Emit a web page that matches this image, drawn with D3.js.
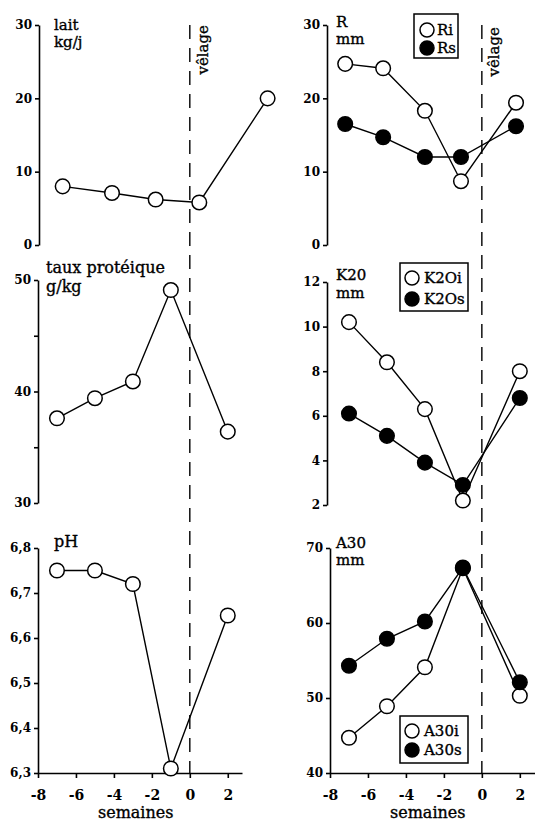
<!DOCTYPE html>
<html>
<head>
<meta charset="utf-8">
<script src="https://cdn.jsdelivr.net/npm/d3@7"></script>
<style>
  body { margin: 0; background: #fff; }
  svg { display: block; }
  text { fill: #000; }
</style>
</head>
<body>
<svg id="chart" width="535" height="823"></svg>
<script>
// weeks around calving (velage)
var weeks = [-7, -5, -3, -1, 2];
var laitWeeks = [-6.7, -4.1, -1.8, 0.5, 4.1];   // top-left panel is drawn slightly off in the original
var rWeeks = [-7.2, -5.2, -3.0, -1.1, 1.8];
var xTicks = [-8, -6, -4, -2, 0, 2];

// left column
var lait = [8.0, 7.1, 6.2, 5.8, 20.0];
var proteine = [37.6, 39.4, 40.9, 49.1, 36.4];
var ph = [6.75, 6.75, 6.72, 6.31, 6.65];

// right column
var Ri = [24.7, 24.1, 18.3, 8.7, 19.4];
var Rs = [16.5, 14.7, 12.0, 12.0, 16.2];
var K2Oi = [10.2, 8.4, 6.3, 2.2, 8.0];
var K2Os = [6.1, 5.1, 3.9, 2.9, 6.8];
var A30i = [44.7, 48.9, 54.1, 67.3, 50.3];
var A30s = [54.3, 57.9, 60.2, 67.4, 52.1];

var serif = "'DejaVu Serif', 'Liberation Serif', serif";
var svg = d3.select("#chart");

var xLeft = d3.scaleLinear().domain([-8, 2.75]).range([38, 242]);
var xRight = d3.scaleLinear().domain([-8, 2.8]).range([330, 535]);

var intFmt = function(d) { return String(d); };
var commaFmt = function(d) { return d3.format(".1f")(d).replace(".", ","); };

// scanned look: a hair of stroke on the text
function ink(sel) {
    return sel.attr("stroke", "#000").attr("stroke-width", 0.35);
}

function styleAxis(sel) {
    sel.attr("font-family", serif).attr("font-size", 12).attr("font-weight", "bold");
    sel.selectAll("path, line").attr("stroke", "#000").attr("stroke-width", 1.6);
}

function panel(o) {
    var y = d3.scaleLinear().domain(o.domain).range(o.range);
    var g = svg.append("g");
    var ax = o.x(-8) + (o.shift || 0);

    var yAxis = d3.axisLeft(y)
        .tickValues(o.ticks)
        .tickSize(4).tickSizeOuter(0).tickPadding(3)
        .tickFormat(o.fmt || intFmt);
    g.append("g").attr("transform", "translate(" + ax + ",0)").call(yAxis).call(styleAxis);

    if (o.minor) {
        var m = g.append("g").attr("transform", "translate(" + ax + ",0)")
            .call(d3.axisLeft(y).tickValues(o.minor).tickSize(4).tickFormat(""));
        m.select(".domain").remove();
        m.call(styleAxis);
    }

    if (o.xAxis) {
        var xa = g.append("g").attr("transform", "translate(0," + o.range[0] + ")")
            .call(d3.axisBottom(o.x).tickValues(xTicks).tickSize(5).tickSizeOuter(0)
                .tickPadding(12).tickFormat(intFmt))
            .call(styleAxis);
        xa.attr("font-size", 14);
        ink(g.append("text")
            .attr("x", o.x(-2.85)).attr("y", 818)
            .attr("text-anchor", "middle")
            .attr("font-family", serif).attr("font-size", 16)
            .text("semaines"));
    }

    var line = d3.line()
        .x(function(d) { return o.x(d[0]); })
        .y(function(d) { return y(d[1]); });

    o.series.forEach(function(s) {
        g.append("path")
            .datum(d3.zip(s.weeks, s.values))
            .attr("d", line)
            .attr("fill", "none")
            .attr("stroke", "#000")
            .attr("stroke-width", 1.4);
    });
    o.series.forEach(function(s) {
        g.selectAll(null)
            .data(d3.zip(s.weeks, s.values))
            .enter().append("circle")
            .attr("cx", function(d) { return o.x(d[0]); })
            .attr("cy", function(d) { return y(d[1]); })
            .attr("r", 7.3)
            .attr("fill", s.filled ? "#000" : "#fff")
            .attr("stroke", "#000")
            .attr("stroke-width", 1.5);
    });

    // title (quantity + unit)
    o.title.forEach(function(t, i) {
        ink(g.append("text")
            .attr("x", o.titleX)
            .attr("y", o.range[1] + o.titleDy[i])
            .attr("font-family", serif).attr("font-size", o.titleSize || 15)
            .text(t));
    });

    if (o.legend) {
        var L = o.legend;
        var lg = g.append("g").attr("transform", "translate(" + L.x + "," + L.y + ")");
        lg.append("rect")
            .attr("width", L.w).attr("height", L.h)
            .attr("fill", "#fff").attr("stroke", "#000").attr("stroke-width", 1.5);
        o.series.forEach(function(s, i) {
            lg.append("circle")
                .attr("cx", L.cx).attr("cy", L.cy[i]).attr("r", 7)
                .attr("fill", s.filled ? "#000" : "#fff")
                .attr("stroke", "#000").attr("stroke-width", 1.5);
            ink(lg.append("text")
                .attr("x", L.tx).attr("y", L.cy[i] + 5)
                .attr("font-family", serif).attr("font-size", 15)
                .text(s.name));
        });
    }
    return y;
}

// calving lines across each column
function velage(x, textX, textY) {
    svg.append("line")
        .attr("x1", x(0)).attr("x2", x(0))
        .attr("y1", 25).attr("y2", 773)
        .attr("stroke", "#000").attr("stroke-width", 1.4)
        .attr("stroke-dasharray", "14,9");
    ink(svg.append("text")
        .attr("transform", "translate(" + textX + "," + textY + ") rotate(-90)")
        .attr("text-anchor", "end")
        .attr("font-family", serif).attr("font-size", 15)
        .text("vêlage"));
}
velage(xLeft, 208, 25);
velage(xRight, 499, 27);

// left column
panel({
    x: xLeft, domain: [0, 30], range: [245, 25], ticks: [0, 10, 20, 30], shift: 1,
    series: [{ weeks: laitWeeks, values: lait, filled: false }],
    title: ["lait", "kg/j"], titleX: 54, titleDy: [5, 22]
});
panel({
    x: xLeft, domain: [30, 50], range: [503, 280], ticks: [30, 40, 50], minor: [35, 45],
    series: [{ weeks: weeks, values: proteine, filled: false }],
    title: ["taux protéique", "g/kg"], titleX: 46, titleDy: [-7, 12], titleSize: 16
});
panel({
    x: xLeft, domain: [6.3, 6.8], range: [773, 548], ticks: [6.3, 6.4, 6.5, 6.6, 6.7, 6.8],
    fmt: commaFmt, xAxis: true,
    series: [{ weeks: weeks, values: ph, filled: false }],
    title: ["pH"], titleX: 54, titleDy: [-1], titleSize: 16
});

// right column
panel({
    x: xRight, domain: [0, 30], range: [245, 25], ticks: [0, 10, 20, 30], shift: -3,
    series: [
        { name: "Ri", weeks: rWeeks, values: Ri, filled: false },
        { name: "Rs", weeks: rWeeks, values: Rs, filled: true }
    ],
    title: ["R", "mm"], titleX: 336, titleDy: [2, 19],
    legend: { x: 414, y: 14, w: 44, h: 44, cx: 13, cy: [16, 34], tx: 23 }
});
panel({
    x: xRight, domain: [2, 12], range: [505, 282], ticks: [2, 4, 6, 8, 10, 12], shift: -3,
    series: [
        { name: "K2Oi", weeks: weeks, values: K2Oi, filled: false },
        { name: "K2Os", weeks: weeks, values: K2Os, filled: true }
    ],
    title: ["K20", "mm"], titleX: 336, titleDy: [-2, 16],
    legend: { x: 400, y: 263, w: 68, h: 48, cx: 12, cy: [15, 36], tx: 24 }
});
panel({
    x: xRight, domain: [40, 70], range: [773, 548], ticks: [40, 50, 60, 70], xAxis: true,
    series: [
        { name: "A30i", weeks: weeks, values: A30i, filled: false },
        { name: "A30s", weeks: weeks, values: A30s, filled: true }
    ],
    title: ["A30", "mm"], titleX: 336, titleDy: [0, 17],
    legend: { x: 400, y: 716, w: 68, h: 47, cx: 12, cy: [15, 34], tx: 24 }
});
</script>
</body>
</html>
